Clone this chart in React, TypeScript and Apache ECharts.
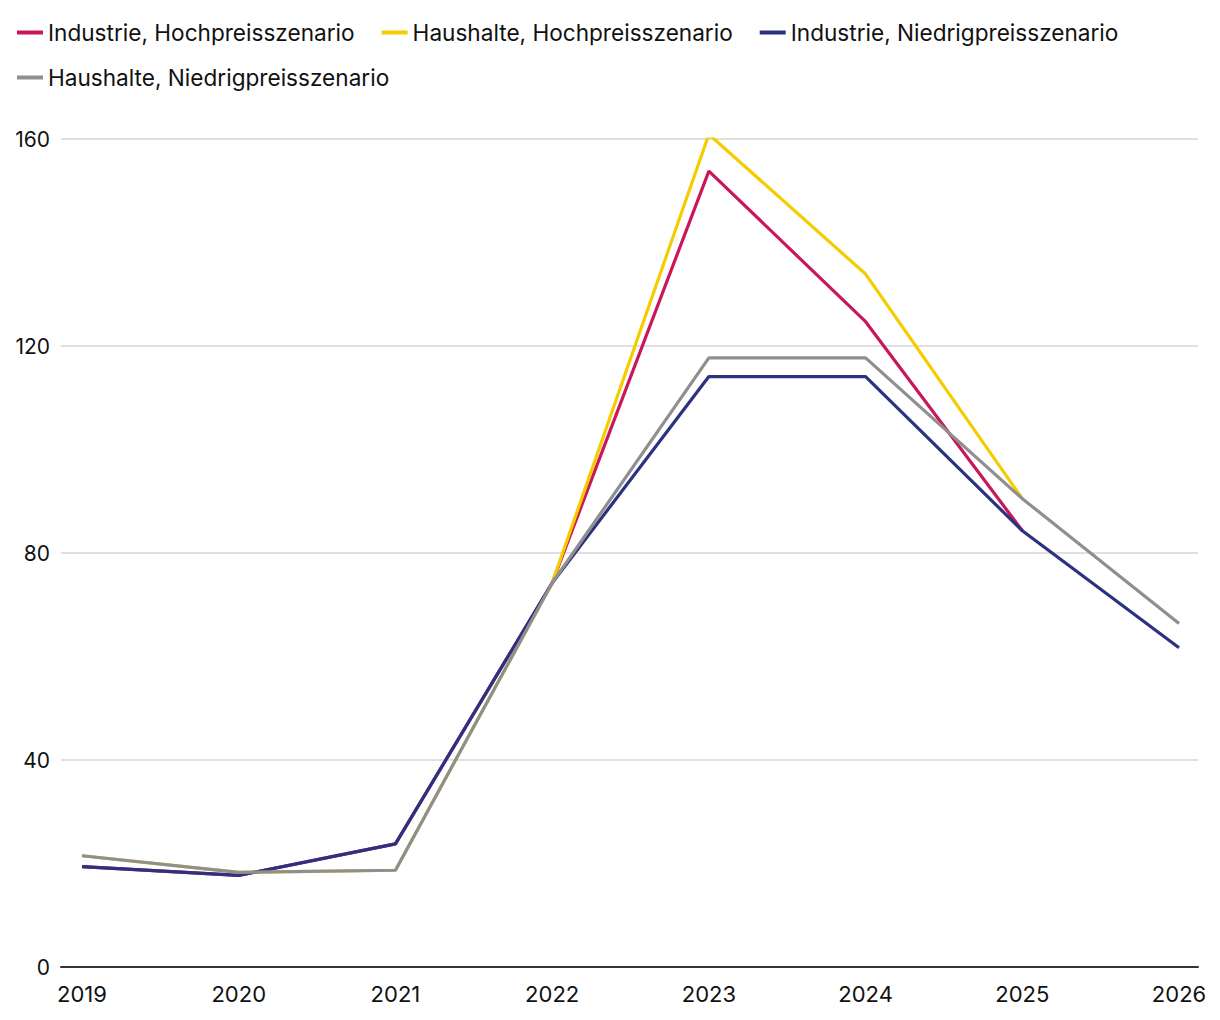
import React, { useEffect, useRef } from "react";
import * as echarts from "echarts";

const years = [2019, 2020, 2021, 2022, 2023, 2024, 2025, 2026];
const industrieHoch = [19.4, 17.7, 23.8, 74.2, 153.8, 124.7, 84.3, null];
const haushalteHoch = [21.5, 18.3, 18.7, 74.2, 160.9, 133.9, 90.5, null];
const industrieNiedrig = [19.4, 17.7, 23.8, 74.2, 114.1, 114.1, 84.3, 61.7];
const haushalteNiedrig = [21.5, 18.3, 18.7, 74.2, 117.7, 117.7, 90.5, 66.4];
const yTicks = [0, 40, 80, 120, 160];

const names = [
  "Industrie, Hochpreisszenario",
  "Haushalte, Hochpreisszenario",
  "Industrie, Niedrigpreisszenario",
  "Haushalte, Niedrigpreisszenario",
];
const colors = ["#c8175d", "#f5cc00", "#2b3381", "#8f8f8f"];
const seriesValues = [industrieHoch, haushalteHoch, industrieNiedrig, haushalteNiedrig];

const FONT = "Inter, 'Noto Sans', sans-serif";

const legendBase = {
  left: 12,
  itemWidth: 26,
  itemHeight: 4,
  itemGap: 27,
  icon: "rect",
  textStyle: { fontSize: 22.6, color: "#111", fontFamily: FONT, padding: [0, 0, 0, 0] },
};

export default function App() {
  const ref = useRef<HTMLDivElement>(null);
  useEffect(() => {
    document.body.style.margin = "0";
    const chart = echarts.init(ref.current!, null, { renderer: "svg" });
    chart.setOption({
      animation: false,
      textStyle: { fontFamily: FONT },
      legend: [
        { ...legendBase, top: 16, data: names.slice(0, 3) },
        { ...legendBase, top: 61, data: names.slice(3) },
      ],
      grid: { left: 61, right: 22, top: 139, bottom: 53, containLabel: false },
      xAxis: {
        type: "value",
        min: 2018.866,
        max: 2026.121,
        splitLine: { show: false },
        axisLine: { show: true, onZero: false, lineStyle: { color: "#333", width: 2 } },
        axisTick: { show: false },
        axisLabel: {
          customValues: years,
          formatter: (v: number) => String(v),
          fontSize: 22,
          color: "#111",
          margin: 16,
          fontFamily: FONT,
        },
      },
      yAxis: {
        type: "value",
        min: 0,
        max: 160,
        interval: 40,
        axisLine: { show: false },
        axisTick: { show: false },
        splitLine: { lineStyle: { color: "#d6d6d6", width: 1.5 } },
        axisLabel: {
          customValues: yTicks,
          fontSize: 21,
          color: "#111",
          margin: 11,
          fontFamily: FONT,
        },
      },
      series: seriesValues.map((vals, i) => ({
        name: names[i],
        type: "line",
        showSymbol: false,
        symbol: "none",
        color: colors[i],
        lineStyle: { width: 3.2, color: colors[i] },
        data: years.map((y, j) => [y, vals[j]]).filter((d) => d[1] !== null),
        z: 2 + i,
      })),
    });
    return () => chart.dispose();
  }, []);
  return <div ref={ref} style={{ width: 1220, height: 1020 }} />;
}
